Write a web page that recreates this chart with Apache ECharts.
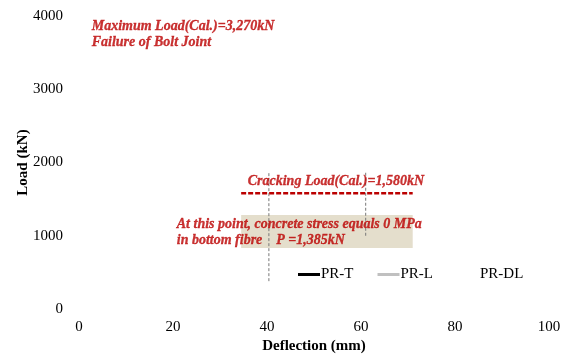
<!DOCTYPE html>
<html>
<head>
<meta charset="utf-8">
<script src="https://cdn.jsdelivr.net/npm/echarts@6/dist/echarts.min.js"></script>
<style>
  html, body { margin: 0; padding: 0; background: #fff; }
  #chart { width: 570px; height: 354px; }
</style>
</head>
<body>
<div id="chart"></div>
<script>
// Load–deflection test curves (no measured points plotted yet)
const seriesNames = ['PR-T', 'PR-L', 'PR-DL'];
const seriesColors = ['#000000', '#c0c0c0', '#ffffff'];
const prT = [];
const prL = [];
const prDL = [];

// Axis ranges and ticks
const xTicks = [0, 20, 40, 60, 80, 100];
const yTicks = [0, 1000, 2000, 3000, 4000];

// Calculated cracking load line
const crackingLoad = 1580;
const crackingSpan = [34.5, 71];

// Zone where bottom-fibre concrete stress reaches 0 MPa
const zeroStressX = [34.5, 71];
const zeroStressY = [833, 1283];

// Reference deflection guides: [x, yFrom, yTo]
const guideLines = [[40.4, 380, 1860], [61.0, 1000, 1860]];

// Annotation anchors: [x, y, text]
const notes = [
  [2.7, 3747, 'Maximum Load(Cal.)=3,270kN\nFailure of Bolt Joint'],
  [35.9, 1747, 'Cracking Load(Cal.)=1,580kN'],
  [20.8, 1040, 'At this point, concrete stress equals 0 MPa\nin bottom fibre    P =1,385kN']
];

const serif = '"Liberation Serif", "DejaVu Serif", serif';
const red = '#bb0000';

const chart = echarts.init(document.getElementById('chart'), null, { renderer: 'canvas' });

const series = [
  { name: seriesNames[0], type: 'line', data: prT, showSymbol: false, lineStyle: { color: seriesColors[0], width: 3 }, itemStyle: { color: seriesColors[0] } },
  { name: seriesNames[1], type: 'line', data: prL, showSymbol: false, lineStyle: { color: seriesColors[1], width: 3 }, itemStyle: { color: seriesColors[1] } },
  { name: seriesNames[2], type: 'line', data: prDL, showSymbol: false, lineStyle: { color: seriesColors[2], width: 3 }, itemStyle: { color: seriesColors[2] } }
];

guideLines.forEach(g => {
  series.push({
    type: 'line', silent: true, showSymbol: false, z: 1,
    data: [[g[0], g[1]], [g[0], g[2]]],
    lineStyle: { color: '#777777', width: 1, type: [3, 2] }
  });
});

series.push({
  type: 'line', silent: true, showSymbol: false, z: 3,
  data: [[crackingSpan[0], crackingLoad], [crackingSpan[1], crackingLoad]],
  lineStyle: { color: red, width: 2.5, type: [5, 2] },
  markArea: {
    silent: true,
    itemStyle: {
      color: 'rgba(214,205,176,0.65)',
      decal: { symbol: 'rect', symbolSize: 0.5, color: 'rgba(170,160,130,0.45)', dashArrayX: [1, 3], dashArrayY: [1, 3] }
    },
    data: [[{ coord: [zeroStressX[0], zeroStressY[0]] }, { coord: [zeroStressX[1], zeroStressY[1]] }]]
  }
});

series.push({
  type: 'scatter', silent: true, z: 5, symbolSize: 0,
  data: notes.map(n => ({ value: [n[0], n[1]], note: n[2] })),
  label: {
    show: true, position: 'right', distance: 0,
    formatter: p => p.data.note,
    color: red, fontFamily: serif, fontSize: 14, fontStyle: 'italic', fontWeight: 'bold',
    lineHeight: 16, align: 'left',
    textBorderColor: red, textBorderWidth: 0.3
  }
});

chart.setOption({
  animation: false,
  backgroundColor: '#ffffff',
  textStyle: { fontFamily: serif },
  grid: { left: 79, right: 21, top: 16, bottom: 45, outerBoundsMode: 'none', containLabel: false },
  legend: {
    data: seriesNames,
    left: 293, top: 262,
    itemWidth: 22, itemHeight: 3, itemGap: 24,
    icon: 'rect',
    textStyle: { fontFamily: serif, fontSize: 15, color: '#000', padding: [0, 0, 0, -4] }
  },
  xAxis: {
    type: 'value', min: xTicks[0], max: xTicks[xTicks.length - 1], interval: 20,
    name: 'Deflection (mm)', nameLocation: 'middle', nameGap: 30, nameMoveOverlap: false,
    nameTextStyle: { fontFamily: serif, fontSize: 15, fontWeight: 'bold', color: '#000' },
    axisLine: { show: false }, axisTick: { show: false }, splitLine: { show: false },
    axisLabel: { fontFamily: serif, fontSize: 15, color: '#000', margin: 11, formatter: v => String(v) }
  },
  yAxis: {
    type: 'value', min: yTicks[0], max: yTicks[yTicks.length - 1], interval: 1000,
    name: 'Load (kN)', nameLocation: 'middle', nameGap: 48, nameRotate: 90, nameMoveOverlap: false,
    nameTextStyle: { fontFamily: serif, fontSize: 15, fontWeight: 'bold', color: '#000' },
    axisLine: { show: false }, axisTick: { show: false }, splitLine: { show: false },
    axisLabel: { fontFamily: serif, fontSize: 15, color: '#000', margin: 16, formatter: v => String(v) }
  },
  series: series
});
</script>
</body>
</html>
